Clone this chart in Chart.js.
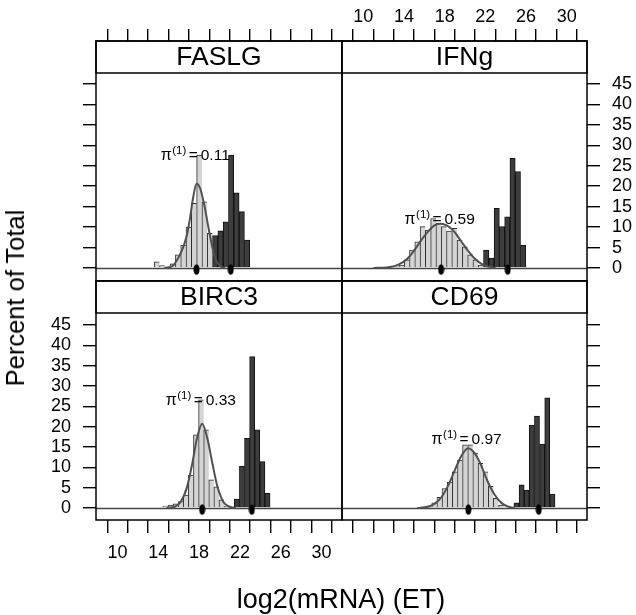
<!DOCTYPE html>
<html>
<head>
<meta charset="utf-8">
<script src="https://cdn.jsdelivr.net/npm/chart.js@4.4.0/dist/chart.umd.min.js"></script>
<style>
  body { margin: 0; background: #fff; }
  #wrap { position: relative; width: 636px; height: 615px; font-family: "Liberation Sans", Arial, Helvetica, sans-serif; }
  canvas { position: absolute; left: 0; top: 0; }
  #xTitle { position: absolute; left: 341px; top: 586px; transform: translateX(-50%); font-size: 27px; line-height: 27px; white-space: nowrap; }
  #yTitle { position: absolute; left: 15px; top: 298px; transform: translate(-50%, -50%) rotate(-90deg); font-size: 25.5px; line-height: 26px; white-space: nowrap; }
</style>
</head>
<body>
<div id="wrap">
  <canvas id="p0" width="636" height="615"></canvas>
  <canvas id="p1" width="636" height="615"></canvas>
  <canvas id="p2" width="636" height="615"></canvas>
  <canvas id="p3" width="636" height="615"></canvas>
  <div id="xTitle">log2(mRNA) (ET)</div>
  <div id="yTitle">Percent of Total</div>
</div>
<script>
const panelNames = ["FASLG", "IFNg", "BIRC3", "CD69"];
const piValues = ["0.11", "0.59", "0.33", "0.97"];
const xTickVals = [8, 10, 12, 14, 16, 18, 20, 22, 24, 26, 28, 30, 32];
const xTickLabels = [10, 14, 18, 22, 26, 30];
const yTickVals = [0, 5, 10, 15, 20, 25, 30, 35, 40, 45];

// FASLG
const faslgBins  = [13.86, 14.38, 14.90, 15.42, 15.94, 16.46, 16.98, 17.50, 18.02, 18.54, 19.06, 19.58, 20.10, 20.62, 21.14, 21.66, 22.18, 22.70];
const faslgLight = [1.5, 0.6, 0.3, 1.0, 3.2, 5.6, 10.0, 15.8, 27.6, 16.2, 8.5, 0, 0, 0, 0, 0, 0, 0];
const faslgDark  = [0, 0, 0, 0, 0, 0, 0, 0, 0, 0, 0, 7.9, 9.1, 11.3, 27.6, 18.4, 13.8, 6.8];
const faslgCurveX = [14.6, 15.4, 15.9, 16.4, 16.8, 17.1, 17.4, 17.75, 18.1, 18.5, 19.0, 19.5, 20.0, 20.5];
const faslgCurveY = [0, 0.5, 2.2, 4.8, 8.0, 12.0, 17.0, 20.6, 19.5, 15.5, 8.8, 3.0, 0.6, 0];
const faslgMeans = [17.75, 21.1];
const faslgLabelAt = [17.77, 26.4];

// IFNg
const ifngBins  = [11.16, 11.68, 12.20, 12.72, 13.24, 13.76, 14.28, 14.80, 15.32, 15.84, 16.36, 16.88, 17.40, 17.92, 18.44, 18.96, 19.48, 20.00, 20.52, 21.04, 21.56, 22.08, 22.60, 23.12, 23.64, 24.16, 24.68, 25.20, 25.72];
const ifngLight = [0.1, 0.1, 0, 0.2, 0.3, 0.7, 2.0, 4.4, 6.4, 10.1, 9.3, 12.1, 10.9, 10.1, 9.0, 9.7, 6.8, 5.2, 3.2, 2.0, 0.7, 0, 0, 0, 0, 0, 0, 0, 0];
const ifngDark  = [0, 0, 0, 0, 0, 0, 0, 0, 0, 0, 0, 0, 0, 0, 0, 0, 0, 0, 0, 0, 0, 4.4, 2.4, 14.6, 10.1, 12.5, 26.8, 23.6, 5.6];
const ifngCurveX = [11.0, 12.5, 13.5, 14.3, 15.0, 15.7, 16.4, 17.0, 17.6, 18.2, 18.9, 19.6, 20.3, 21.0, 21.7, 22.4, 23.0];
const ifngCurveY = [0, 0.2, 0.9, 2.2, 4.3, 6.8, 9.0, 10.4, 10.8, 10.4, 9.0, 6.6, 4.2, 2.2, 0.9, 0.3, 0];
const ifngMeans = [17.65, 24.2];
const ifngLabelAt = [17.6, 10.8];

// BIRC3
const birc3Bins  = [14.7, 15.2, 15.7, 16.2, 16.7, 17.2, 17.7, 18.2, 18.7, 19.2, 19.7, 20.2, 20.7, 21.2, 21.7, 22.2, 22.7, 23.2, 23.7, 24.2, 24.7];
const birc3Light = [0.5, 0.7, 1.0, 1.6, 3.2, 8.1, 18.0, 26.6, 19.2, 6.9, 5.2, 2.0, 0.5, 0, 0, 0, 0, 0, 0, 0, 0];
const birc3Dark  = [0, 0, 0, 0, 0, 0, 0, 0, 0, 0, 0, 0, 0, 0, 2.2, 10.3, 17.1, 37.2, 19.2, 11.4, 3.6];
const birc3CurveX = [14.8, 15.6, 16.2, 16.8, 17.3, 17.8, 18.3, 18.8, 19.3, 19.8, 20.4, 21.0, 21.6];
const birc3CurveY = [0, 0.3, 1.5, 5.0, 10.5, 17.2, 20.7, 17.2, 11.0, 5.2, 1.4, 0.3, 0];
const birc3Means = [18.3, 23.17];
const birc3LabelAt = [18.26, 25.3];

// CD69
const cd69Bins  = [15.97, 16.47, 16.98, 17.49, 17.99, 18.50, 19.00, 19.51, 20.01, 20.52, 21.02, 21.53, 22.03, 22.54, 23.04, 23.55, 24.05, 24.56, 25.06, 25.57, 26.07, 26.58, 27.08, 27.59, 28.09, 28.60];
const cd69Light = [0.2, 0.3, 1.3, 2.6, 4.8, 6.4, 8.9, 11.8, 15.5, 15.5, 13.5, 11.0, 8.9, 5.3, 2.4, 0.7, 0, 0, 0, 0, 0, 0, 0, 0, 0, 0];
const cd69Dark  = [0, 0, 0, 0, 0, 0, 0, 0, 0, 0, 0, 0, 0, 0, 0, 0, 0, 0, 1.3, 5.7, 4.4, 20.4, 22.6, 15.7, 27.1, 3.4];
const cd69CurveX = [15.3, 16.3, 17.0, 17.7, 18.4, 19.0, 19.6, 20.3, 21.0, 21.6, 22.2, 22.9, 23.6, 24.3, 24.9];
const cd69CurveY = [0, 0.3, 1.0, 2.7, 5.8, 9.3, 12.6, 14.7, 13.3, 10.4, 6.7, 3.3, 1.2, 0.3, 0];
const cd69Means = [20.33, 27.25];
const cd69LabelAt = [20.25, 15.7];

const FONT = "'Liberation Sans', Arial, Helvetica, sans-serif";
const W = 636, H = 615;
Chart.defaults.font.family = FONT;
Chart.defaults.color = "#000";

// elongated black blob used for the component means
const dot = document.createElement("canvas");
dot.width = 7; dot.height = 14;
{
  const g = dot.getContext("2d");
  g.fillStyle = "#000";
  g.beginPath();
  g.ellipse(3.5, 8.5, 3, 5.3, 0, 0, Math.PI * 2);
  g.fill();
}

const panelDeco = {
  id: "panelDeco",
  beforeDatasetsDraw(chart) {
    const { ctx, chartArea: a, scales: { y } } = chart;
    const y0 = Math.round(y.getPixelForValue(0)) + 0.5;
    ctx.save();
    ctx.strokeStyle = "#444";
    ctx.lineWidth = 1.3;
    ctx.beginPath();
    ctx.moveTo(a.left, y0);
    ctx.lineTo(a.right, y0);
    ctx.stroke();
    ctx.restore();
  },
  afterDraw(chart, args, opts) {
    const { ctx, chartArea: a, scales: { x, y } } = chart;
    ctx.save();
    // strip
    ctx.fillStyle = "#fff";
    ctx.fillRect(a.left, a.top, a.right - a.left, 32);
    ctx.strokeStyle = "#000";
    ctx.lineWidth = 1.5;
    ctx.strokeRect(a.left, a.top, a.right - a.left, 32);
    ctx.fillStyle = "#000";
    ctx.font = "26.5px " + FONT;
    ctx.textAlign = "center";
    ctx.textBaseline = "middle";
    ctx.fillText(opts.name, (a.left + a.right) / 2, a.top + 17);
    // frame
    ctx.strokeRect(a.left, a.top, a.right - a.left, a.bottom - a.top);
    // pi label
    const cx = x.getPixelForValue(opts.labelAt[0]);
    const by = y.getPixelForValue(opts.labelAt[1]);
    const sx = cx - 36;
    ctx.textAlign = "left";
    ctx.textBaseline = "alphabetic";
    ctx.font = "16px " + FONT;
    ctx.fillText("\u03c0", sx, by);
    ctx.font = "11.5px " + FONT;
    ctx.fillText("(1)", sx + 11.5, by - 6);
    ctx.font = "15.5px " + FONT;
    ctx.fillText("=", sx + 28, by);
    ctx.fillText(opts.pi, sx + 40, by);
    ctx.restore();
  }
};

function makePanel(id, name, pi, bins, light, dark, curveX, curveY, means, labelAt, cfg) {
  const [l, t, r, b] = cfg.area;
  const pad = {
    left: cfg.yPos === "left" ? l - cfg.ySize : l,
    right: cfg.yPos === "right" ? W - r - cfg.ySize : W - r,
    top: cfg.xPos === "top" ? t - cfg.xSize : t,
    bottom: cfg.xPos === "bottom" ? H - b - cfg.xSize : H - b
  };
  const pts = (xs, ys) => xs.map((v, i) => ({ x: v, y: ys[i] })).filter(d => d.y > 0);
  new Chart(document.getElementById(id), {
    data: {
      datasets: [
        { type: "scatter", data: means.map(m => ({ x: m, y: 0 })), pointStyle: dot, pointRadius: 4, order: 0 },
        { type: "line", data: curveX.map((v, i) => ({ x: v, y: curveY[i] })), borderColor: "#505050", borderWidth: 2,
          pointRadius: 0, cubicInterpolationMode: "monotone", order: 1 },
        { type: "bar", data: pts(bins, dark), backgroundColor: "#3d3d3d", borderColor: "#111",
          borderWidth: { left: 1, top: 1, right: 1, bottom: 0 }, order: 2 },
        { type: "bar", data: pts(bins, light), backgroundColor: "#d4d4d4", borderColor: "#2e2e2e",
          borderWidth: { left: 1, top: 1, right: 0, bottom: 0 }, order: 3 }
      ]
    },
    options: {
      responsive: false,
      animation: false,
      devicePixelRatio: 1,
      layout: { padding: pad },
      datasets: { bar: { barPercentage: 1, categoryPercentage: 1, grouped: false } },
      plugins: {
        legend: { display: false },
        tooltip: { enabled: false },
        panelDeco: { name: name, pi: pi, labelAt: labelAt }
      },
      scales: {
        x: {
          type: "linear", position: cfg.xPos, min: 7.9, max: 32, offset: false,
          afterBuildTicks: s => { s.ticks = xTickVals.map(v => ({ value: v })); },
          afterFit: s => { s.height = cfg.xSize; },
          grid: { drawOnChartArea: false, tickLength: cfg.xTick, color: "#000", lineWidth: 1.4 },
          border: { display: false },
          ticks: { display: cfg.xLabels, padding: cfg.xPad, maxRotation: 0, autoSkip: false,
                   font: { size: 18 }, callback: v => xTickLabels.includes(v) ? String(v) : "" }
        },
        y: {
          type: "linear", position: cfg.yPos, min: cfg.yMin, max: cfg.yMax,
          afterBuildTicks: s => { s.ticks = yTickVals.map(v => ({ value: v })); },
          afterFit: s => { s.width = cfg.ySize; },
          grid: { drawOnChartArea: false, tickLength: 13, color: "#000", lineWidth: 1.4 },
          border: { display: false },
          ticks: { display: cfg.yLabels, padding: 12, autoSkip: false, font: { size: 18 } }
        }
      }
    },
    plugins: [panelDeco]
  });
}

makePanel("p0", panelNames[0], piValues[0], faslgBins, faslgLight, faslgDark, faslgCurveX, faslgCurveY, faslgMeans, faslgLabelAt,
  { area: [96, 41, 342, 281], xPos: "top", xSize: 12, xTick: 12, xLabels: false, xPad: 1,
    yPos: "left", ySize: 13, yLabels: false, yMin: -3.18, yMax: 55.5 });
makePanel("p1", panelNames[1], piValues[1], ifngBins, ifngLight, ifngDark, ifngCurveX, ifngCurveY, ifngMeans, ifngLabelAt,
  { area: [342, 41, 587, 281], xPos: "top", xSize: 41, xTick: 12, xLabels: true, xPad: 1,
    yPos: "right", ySize: 49, yLabels: true, yMin: -3.18, yMax: 55.5 });
makePanel("p2", panelNames[2], piValues[2], birc3Bins, birc3Light, birc3Dark, birc3CurveX, birc3CurveY, birc3Means, birc3LabelAt,
  { area: [96, 281, 342, 520], xPos: "bottom", xSize: 95, xTick: 13, xLabels: true, xPad: 9,
    yPos: "left", ySize: 96, yLabels: true, yMin: -2.95, yMax: 55.8 });
makePanel("p3", panelNames[3], piValues[3], cd69Bins, cd69Light, cd69Dark, cd69CurveX, cd69CurveY, cd69Means, cd69LabelAt,
  { area: [342, 281, 587, 520], xPos: "bottom", xSize: 13, xTick: 13, xLabels: false, xPad: 9,
    yPos: "right", ySize: 13, yLabels: false, yMin: -2.95, yMax: 55.8 });
</script>
</body>
</html>
